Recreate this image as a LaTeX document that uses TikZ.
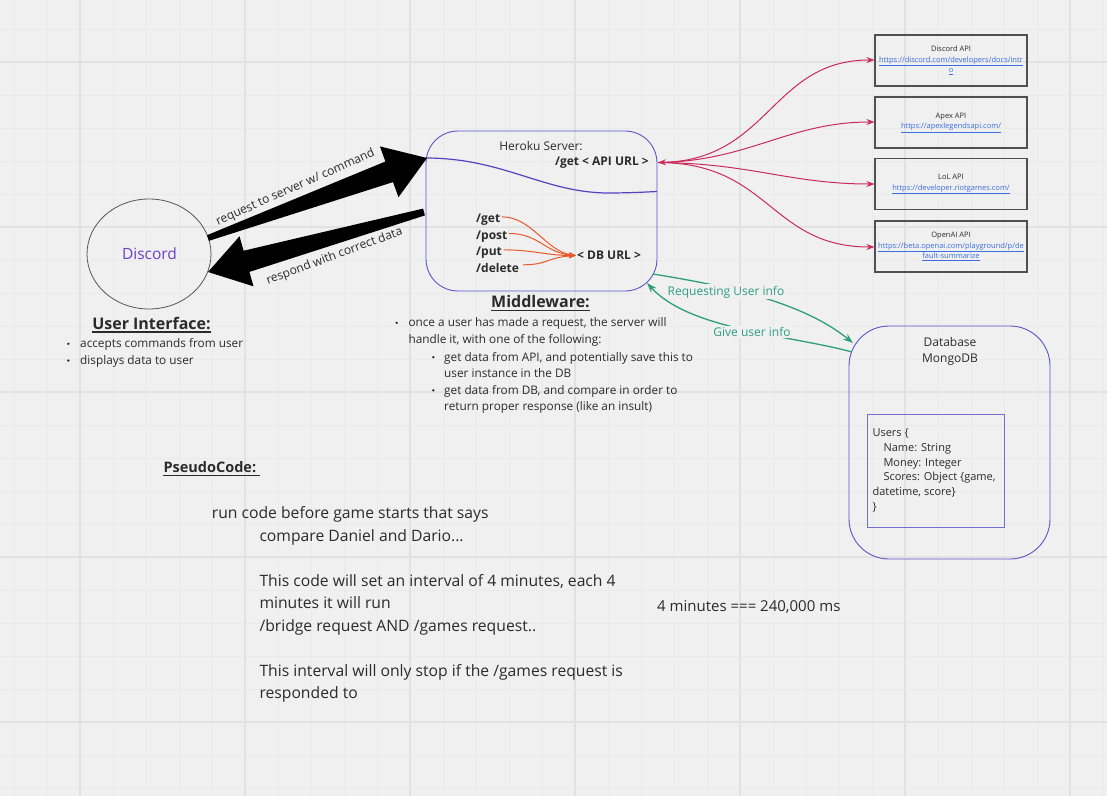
\documentclass[tikz,border=0pt]{standalone}
\usepackage{fontspec}
\setmainfont{Open Sans}
\usetikzlibrary{arrows.meta,shapes.geometric}
\definecolor{bg}{HTML}{F0F0F0}
\definecolor{gridminor}{HTML}{EAEAEA}
\definecolor{gridmajor}{HTML}{E2E2E2}
\definecolor{ink}{HTML}{2B2B2B}
\definecolor{purp}{HTML}{5A56C8}
\definecolor{wave}{HTML}{5B3FC0}
\definecolor{disc}{HTML}{6A40C8}
\definecolor{orng}{HTML}{E8582C}
\definecolor{mag}{HTML}{C92A5E}
\definecolor{grn}{HTML}{2E9E7B}
\definecolor{link}{HTML}{3B6EE0}
\definecolor{boxc}{HTML}{505050}
\begin{document}
\begin{tikzpicture}[x=1pt,y=-1pt,
  every node/.style={inner sep=0pt,text=ink},
  apibox/.style={draw=boxc,line width=1.1pt,minimum width=152pt,minimum height=51pt,align=center,font=\fontsize{7.5}{10.5}\selectfont},
  apiline/.style={draw=mag,line width=1pt,-{Stealth[length=8pt,width=6pt]}},
  ornline/.style={draw=orng,line width=1pt,-{Stealth[length=7pt,width=5pt]}},
  grnline/.style={draw=grn,line width=1.3pt,-{Stealth[length=10pt,width=7pt]}},
  bul/.style={font=\fontsize{11.8}{14}\selectfont,anchor=base west},
  pseudo/.style={font=\fontsize{15.7}{18}\selectfont,anchor=base west},
  ttl/.style={font=\fontsize{16}{18}\selectfont\bfseries,anchor=base},
  dbtxt/.style={font=\fontsize{11}{13}\selectfont,anchor=base west},
  srv/.style={font=\fontsize{12}{14}\selectfont\bfseries,anchor=base west},
  grnlbl/.style={font=\fontsize{12}{14}\selectfont,text=grn,fill=bg,inner sep=1.5pt,anchor=base west},
  arrlbl/.style={font=\fontsize{12}{14}\selectfont}
]
\useasboundingbox (0,0) rectangle (1107,796);
\fill[bg] (0,0) rectangle (1107,796);
% grid
\foreach \i in {0,...,33} {\draw[gridminor,line width=0.8pt] ({14+33*\i},0) -- ({14+33*\i},796);}
\foreach \i in {0,...,23} {\draw[gridminor,line width=0.8pt] (0,{29+33*\i}) -- (1107,{29+33*\i});}
\foreach \i in {0,...,6} {\draw[gridmajor,line width=1.2pt] ({80+165*\i},0) -- ({80+165*\i},796);}
\foreach \i in {0,...,4} {\draw[gridmajor,line width=1.2pt] (0,{62+165*\i}) -- (1107,{62+165*\i});}

% Discord ellipse
\node[draw=ink!80,ellipse,line width=0.8pt,minimum width=124pt,minimum height=110pt] (discord) at (149,254) {};
\node[font=\fontsize{15.5}{18}\selectfont,text=disc,anchor=base] (disctxt) at (149.5,259.3) {Discord};

% Heroku server
\node[draw=purp,line width=0.9pt,rounded corners=32pt,minimum width=231pt,minimum height=160pt] (heroku) at (541.5,211) {};
\node[font=\fontsize{12}{14}\selectfont,anchor=base] (herokutitle) at (541,150) {Heroku Server:};
\node[srv,anchor=base east] (apiurl) at (649,165) {/get < API URL >};
\draw[wave,line width=1.2pt] (425.5,158) .. controls (505,158) and (545,194) .. (612,193) .. controls (632,192.7) .. (657,191.5);

\node[srv] (get) at (476,222.7) {/get};
\node[srv] (post) at (476,239.3) {/post};
\node[srv] (put) at (476,255.7) {/put};
\node[srv] (del) at (476,272.3) {/delete};
\node[srv] (dburl) at (577,259) {< DB URL >};
\coordinate (dbin) at (576,255.5);
\draw[ornline] ([xshift=1.5pt,yshift=3pt]get.east) .. controls +(30,0) and +(-30,-4) .. (dbin);
\draw[ornline] ([xshift=1.5pt,yshift=3pt]post.east) .. controls +(30,0) and +(-30,-2) .. (dbin);
\draw[ornline] ([xshift=1.5pt,yshift=3pt]put.east) .. controls +(30,0) and +(-30,0) .. (dbin);
\draw[ornline] ([xshift=4pt,yshift=3pt]del.east) .. controls +(25,0) and +(-30,2) .. (dbin);

% black block arrows
\fill[black] (207,235.2) -- (385.4,161.5) -- (379.9,146.4) -- (427,158) -- (398.5,197.2) -- (393,182.1) -- (209,240.8) -- cycle;
\fill[black] (423.1,208.6) -- (243.6,250.7) -- (239.5,236.3) -- (208,272) -- (253.5,286.3) -- (249.4,271.9) -- (424.9,215.4) -- cycle;
\node[arrlbl,rotate=24] (reqlbl) at (295.5,187.5) {request to server w/ command};
\node[arrlbl,rotate=20.3] (resplbl) at (334.5,256.5) {respond with correct data};

% API boxes
\node[apibox] (api1) at (951,60.5) {Discord API\\\textcolor{link}{\underline{https://discord.com/developers/docs/intr}}\\\textcolor{link}{\underline{o}}};
\node[apibox] (api2) at (951,122.5) {Apex API\\\textcolor{link}{\underline{https://apexlegendsapi.com/}}};
\node[apibox] (api3) at (951,184) {LoL API\\\textcolor{link}{\underline{https://developer.riotgames.com/}}};
\node[apibox] (api4) at (951,246.5) {OpenAI API\\\textcolor{link}{\underline{https://beta.openai.com/playground/p/de}}\\\textcolor{link}{\underline{fault-summarize}}};
\coordinate (hapi) at (658,162.5);
\draw[apiline] (hapi) .. controls (770,162.5) and (770,60) .. (api1.west |- 0,60);
\draw[apiline,{Stealth[length=8pt,width=6pt]}-{Stealth[length=8pt,width=6pt]}] (hapi) .. controls (750,160) and (790,122) .. (api2.west |- 0,122);
\draw[apiline] (hapi) .. controls (750,163) and (790,184) .. (api3.west |- 0,184);
\draw[apiline] (hapi) .. controls (770,162.5) and (770,247) .. (api4.west |- 0,247);

% Database
\node[draw=purp,line width=0.9pt,rounded corners=40pt,minimum width=201pt,minimum height=233pt] (db) at (949.5,442.5) {};
\node[font=\fontsize{12}{14}\selectfont,anchor=base] (dbt1) at (950,346.7) {Database};
\node[font=\fontsize{12}{14}\selectfont,anchor=base] (dbt2) at (950,362.7) {MongoDB};
\node[draw=purp!85,line width=0.9pt,minimum width=137pt,minimum height=113pt] (users) at (935.5,470.5) {};
\node[dbtxt] (u1) at (872.3,436.7) {Users \{};
\node[dbtxt] (u2) at (883.3,451.4) {Name: String};
\node[dbtxt] (u3) at (883.3,466) {Money: Integer};
\node[dbtxt] (u4) at (883.3,480.7) {Scores: Object \{game,};
\node[dbtxt] (u5) at (872.3,495.5) {datetime, score\}};
\node[dbtxt] (u6) at (872.3,510.5) {\}};

% green arrows
\coordinate (hdb) at (653,274);
\coordinate (dbh) at (853,343);
\coordinate (dbg) at (852,352);
\coordinate (hg) at (647,283);
\draw[grnline] (hdb) .. controls (720,285) and (800,300) .. (dbh);
\draw[grnline] (dbg) .. controls (790,335) and (690,330) .. (hg);
\node[grnlbl] (reqinfo) at (666,295) {Requesting User info};
\node[grnlbl] (giveinfo) at (711.7,336.7) {Give user info};

% User interface
\node[ttl] (uititle) at (151.5,329) {User Interface:};
\draw[ink,line width=1.3pt] ([yshift=-3pt]uititle.base west) -- ([yshift=-3pt]uititle.base east);
\fill[ink] (68.3,343.8) circle (1.3);
\fill[ink] (68.3,360.5) circle (1.3);
\node[bul] (ui1) at (80,347.7) {accepts commands from user};
\node[bul] (ui2) at (80,364.3) {displays data to user};

% Middleware
\node[ttl] (mwtitle) at (540.5,307.3) {Middleware:};
\draw[ink,line width=1.3pt] ([yshift=-3pt]mwtitle.base west) -- ([yshift=-3pt]mwtitle.base east);
\fill[ink] (396.7,322.8) circle (1.3);
\fill[ink] (433.3,357.2) circle (1.3);
\fill[ink] (433.3,390.3) circle (1.3);
\node[bul] (mw1) at (408.3,326.7) {once a user has made a request, the server will};
\node[bul] (mw2) at (408.3,343.3) {handle it, with one of the following:};
\node[bul] (mw3) at (444,361) {get data from API, and potentially save this to};
\node[bul] (mw4) at (444,377.3) {user instance in the DB};
\node[bul] (mw5) at (444,394) {get data from DB, and compare in order to};
\node[bul] (mw6) at (444,410.7) {return proper response (like an insult)};

% PseudoCode
\node[font=\fontsize{14.5}{17}\selectfont\bfseries,anchor=base west] (pctitle) at (163.3,472.7) {PseudoCode:};
\draw[ink,line width=1.2pt] ([yshift=-3pt]pctitle.base west) -- ([xshift=4pt,yshift=-3pt]pctitle.base east);
\node[pseudo] (p1) at (211.7,518.3) {run code before game starts that says};
\node[pseudo] (p2) at (259.3,541) {compare Daniel and Dario...};
\node[pseudo] (p3) at (259.3,586) {This code will set an interval of 4 minutes, each 4};
\node[pseudo] (p4) at (259.3,608.3) {minutes it will run};
\node[pseudo] (p5) at (259.3,631) {/bridge request AND /games request..};
\node[pseudo] (p6) at (259.3,676) {This interval will only stop if the /games request is};
\node[pseudo] (p7) at (259.3,698.3) {responded to};
\node[font=\fontsize{15}{18}\selectfont,anchor=base west] (ms) at (657,611.7) {4 minutes === 240,000 ms};
\end{tikzpicture}
\end{document}
